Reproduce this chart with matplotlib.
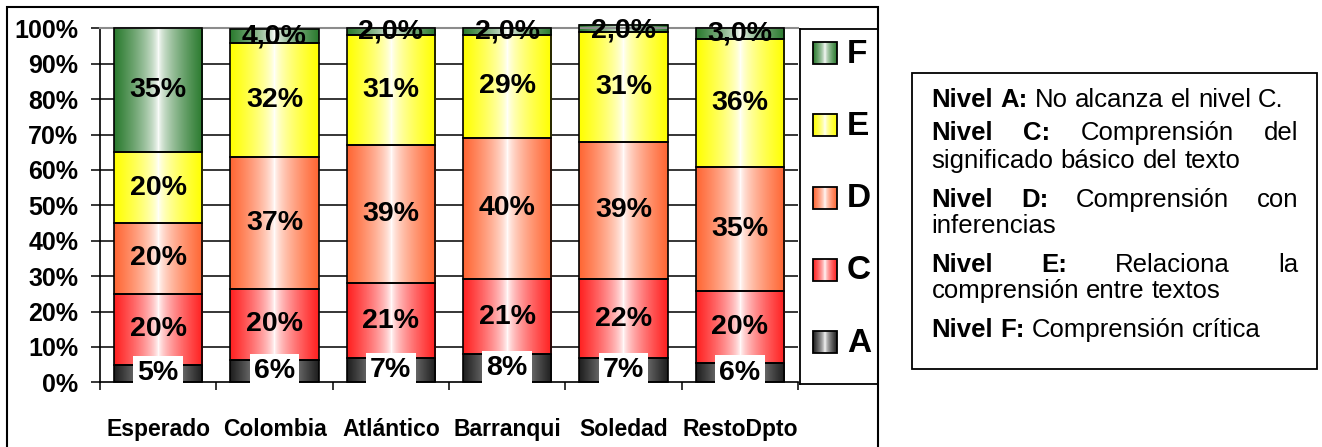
import numpy as np
import matplotlib
matplotlib.use("Agg")
import matplotlib.pyplot as plt
import matplotlib.colors as mcolors
from matplotlib.patches import Rectangle

# ---------------- data ----------------
categories = ["Esperado", "Colombia", "Atlántico", "Barranqui", "Soledad", "RestoDpto"]
levels = ["A", "C", "D", "E", "F"]
nivel_A = [5.0, 6.3, 6.8, 7.9, 6.8, 5.5]
nivel_C = [20.0, 20.1, 21.2, 21.2, 22.3, 20.3]
nivel_D = [20.0, 37.3, 38.9, 40.0, 38.9, 35.1]
nivel_E = [20.0, 32.1, 31.1, 29.0, 31.0, 36.2]
nivel_F = [35.0, 4.0, 2.0, 2.0, 2.0, 3.0]
y_ticks = [0, 10, 20, 30, 40, 50, 60, 70, 80, 90, 100]
y_tick_labels = [f"{t}%" for t in y_ticks]

desc_lines = [
    ("Nivel A:", "No alcanza el nivel C.", False),
    ("Nivel C:", "Comprensión del", True),
    ("", "significado básico del texto", False),
    ("Nivel D:", "Comprensión con", True),
    ("", "inferencias", False),
    ("Nivel E:", "Relaciona la", True),
    ("", "comprensión entre textos", False),
    ("Nivel F:", "Comprensión crítica", False),
]

series = [nivel_A, nivel_C, nivel_D, nivel_E, nivel_F]
colors = ["#1E1E1E", "#FF2020", "#FF6633", "#FFFF00", "#2A7A2E"]

FONT = ["Liberation Sans", "DejaVu Sans"]
plt.rcParams["font.family"] = FONT

W, H = 1322, 447
fig = plt.figure(figsize=(W / 100, H / 100), dpi=100)


def fx(x):
    return x / W


def fy(y):
    return 1 - y / H


def gradient(color, n=121, p=0.65):
    rgb = np.array(mcolors.to_rgb(color))
    t = np.abs(np.linspace(-1, 1, n)) ** p
    img = 1 - (1 - rgb)[None, :] * t[:, None]
    return img[None, :, :]


def label_text(v, series_name):
    if series_name == "F" and v < 10:
        return f"{v:.1f}%".replace(".", ",")
    return f"{v:.0f}%"


# ---------------- main axes ----------------
ax = fig.add_axes([fx(100), fy(382.3), (798 - 100) / W, (382.3 - 28.3) / H])
x = np.arange(len(categories))
bottom = np.zeros(len(categories))
for name, vals, col in zip(levels, series, colors):
    vals = np.array(vals)
    cont = ax.bar(x, vals, width=0.76, bottom=bottom, facecolor="none",
                  edgecolor="black", linewidth=1.2, zorder=3, clip_on=False)
    grad = gradient(col)
    for patch in cont.patches:
        x0, y0 = patch.get_x(), patch.get_y()
        w, h = patch.get_width(), patch.get_height()
        im = ax.imshow(grad, extent=[x0, x0 + w, y0, y0 + h], aspect="auto",
                       interpolation="bilinear", zorder=2.5)
        im.set_clip_on(False)
    labs = [label_text(v, name) for v in vals]
    kw = dict(label_type="center", fontsize=20.5, fontweight="bold", zorder=6)
    if name == "A":
        kw["bbox"] = dict(boxstyle="square,pad=0.15", fc="white", ec="none")
    ax.bar_label(cont, labels=labs, **kw)
    bottom = bottom + vals

for t in y_ticks[1:-1]:
    ax.axhline(t, color="black", lw=1.1, zorder=1)

ax.set_xlim(-0.5, len(categories) - 0.5)
ax.set_ylim(0, 100)
ax.set_yticks(y_ticks)
ax.set_yticklabels(y_tick_labels, fontsize=18, fontweight="bold")
ax.tick_params(axis="y", direction="out", length=6.5, width=1.1, pad=9)
ax.set_xticks(x)
ax.set_xticklabels(categories, fontsize=16.5, fontweight="bold")
ax.set_xticks(np.arange(len(categories) + 1) - 0.5, minor=True)
ax.tick_params(axis="x", which="major", length=0, pad=26)
ax.tick_params(axis="x", which="minor", direction="out", length=6, width=1.1)
ax.spines["right"].set_visible(False)
ax.spines["top"].set_color("#8c8c8c")
ax.spines["top"].set_linewidth(1.5)
ax.spines["left"].set_linewidth(1.2)
ax.spines["bottom"].set_linewidth(1.2)
ax.patch.set_alpha(0)

# ---------------- legend (manual, gradient swatches) ----------------
lax = fig.add_axes([fx(800), fy(384.3), (878.3 - 800) / W, (384.3 - 29) / H])
lax.set_xticks([])
lax.set_yticks([])
for s in lax.spines.values():
    s.set_linewidth(1.3)
for i, (name, col) in enumerate(zip(levels[::-1], colors[::-1])):
    yc = 53 + 72.3 * i
    lax.imshow(gradient(col), extent=[812.7, 836.7, yc + 11, yc - 11],
               aspect="auto", interpolation="bilinear", zorder=2)
    lax.add_patch(Rectangle((812.7, yc - 11), 24, 22, fill=False,
                            ec="black", lw=1.3, zorder=3))
    lax.text(847, yc + 1, name, fontsize=24, fontweight="bold", va="center", ha="left")
lax.set_xlim(800, 878.3)
lax.set_ylim(384.3, 29)

# ---------------- outer chart frame ----------------
fig.add_artist(Rectangle((fx(7), fy(470)), (878.3 - 7) / W, (470 - 7) / H,
                         transform=fig.transFigure, fill=False, ec="black", lw=1.5))

# ---------------- description box ----------------
fig.add_artist(Rectangle((fx(912.3), fy(368.5)), (1316.7 - 912.3) / W, (368.5 - 73.3) / H,
                         transform=fig.transFigure, fill=False, ec="black", lw=1.3))

renderer = fig.canvas.get_renderer()
BOX_FS = 18.5


def text_width(s, weight):
    t = fig.text(0, 0, s, fontsize=BOX_FS, fontweight=weight)
    w = t.get_window_extent(renderer).width
    t.remove()
    return w


space_w = text_width("n n", "normal") - text_width("nn", "normal")
left_px, right_px = 931.7, 1298.0
baselines = [106.7, 140.0, 168.3, 206.7, 233.3, 271.7, 298.0, 336.7]

for (bold_part, reg_part, justify), base in zip(desc_lines, baselines):
    words = [(w, "bold") for w in bold_part.split()] + [(w, "normal") for w in reg_part.split()]
    widths = [text_width(w, wt) for w, wt in words]
    if justify and len(words) > 1:
        gap = (right_px - left_px - sum(widths)) / (len(words) - 1)
    else:
        gap = space_w
    cur = left_px
    for (w, wt), wd in zip(words, widths):
        fig.text(fx(cur), fy(base), w, fontsize=BOX_FS, fontweight=wt,
                 ha="left", va="baseline")
        cur += wd + gap

fig.savefig("out.png", dpi=100)
